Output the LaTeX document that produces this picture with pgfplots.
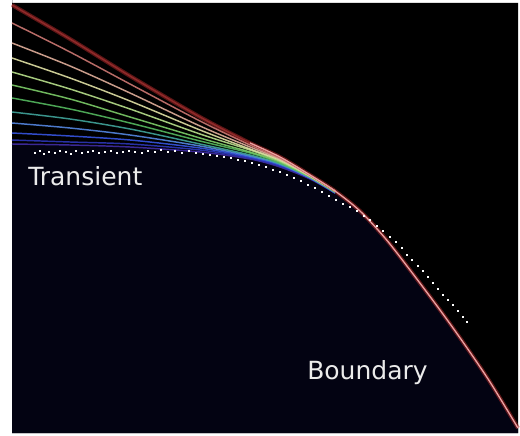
\documentclass[border=0pt]{standalone}
\usepackage{pgfplots}
\pgfplotsset{compat=1.18}
\usepackage{fontspec}
\setmainfont{DejaVu Sans}

% transient curve colours, top (dark red) to bottom (indigo)
\definecolor{c1}{RGB}{150,45,45}
\definecolor{c2}{RGB}{205,120,115}
\definecolor{c3}{RGB}{225,175,155}
\definecolor{c4}{RGB}{225,225,165}
\definecolor{c5}{RGB}{185,225,140}
\definecolor{c6}{RGB}{125,205,105}
\definecolor{c7}{RGB}{85,185,95}
\definecolor{c8}{RGB}{65,165,155}
\definecolor{c9}{RGB}{85,135,225}
\definecolor{c10}{RGB}{55,85,225}
\definecolor{c11}{RGB}{45,55,185}
\definecolor{c12}{RGB}{65,45,165}
\definecolor{navy}{RGB}{3,3,18}
\definecolor{bcore}{RGB}{235,160,160}
\definecolor{bglow}{RGB}{170,40,40}

\pgfplotsset{
  trans/.style={no marks, smooth, line width=1.1pt, opacity=0.9},
}

\begin{document}
\begin{tikzpicture}
\begin{axis}[
  scale only axis,
  width=390pt, height=326.25pt,
  xmin=0, xmax=520, ymin=0, ymax=435,
  y dir=reverse,
  hide axis,
  clip=true,
]
% page and dark panel
\addplot[fill=white, draw=none] coordinates {(0,0) (520,0) (520,435) (0,435)} \closedcycle;
\addplot[fill=black, draw=none] coordinates {(12,3) (518,3) (518,433) (12,433)} \closedcycle;
% region under the lowest transient and the boundary
\addplot[fill=navy, draw=none] coordinates {
  (12,144) (70,145) (130,147) (200,152) (250,159) (280,167) (310,179) (335,193)
  (360,211) (385,238) (410,270) (440,310) (465,345) (490,382) (518,428)
  (518,433) (12,433)} \closedcycle;

% boundary glow
\addplot[no marks, smooth, draw=bglow, line width=3pt, opacity=0.55] coordinates {
  (12,5) (70,39) (130,76) (200,117) (250,143) (280,157) (310,175) (335,191)
  (360,211) (385,238) (410,270) (440,310) (465,345) (490,382) (518,428)};

% transients
\addplot[trans, draw=c12] coordinates {(12,144) (70,145) (130,147) (200,152) (250,159) (280,167) (310,179) (335,193)};
\addplot[trans, draw=c11] coordinates {(12,140) (70,142) (130,144) (200,150) (250,158) (280,166) (310,178) (335,193)};
\addplot[trans, draw=c10] coordinates {(12,133) (70,136) (130,140) (200,148) (250,157) (280,165) (310,178) (335,193)};
\addplot[trans, draw=c9]  coordinates {(12,123) (70,128) (130,135) (200,146) (250,156) (280,164) (310,178) (335,192)};
\addplot[trans, draw=c8]  coordinates {(12,112) (70,119) (130,129) (200,144) (250,155) (280,164) (310,177) (335,192)};
\addplot[trans, draw=c7]  coordinates {(12,98) (70,109) (130,123) (200,141) (250,153) (280,163) (310,177) (335,192)};
\addplot[trans, draw=c6]  coordinates {(12,85) (70,99) (130,117) (200,138) (250,152) (280,162) (310,177) (335,192)};
\addplot[trans, draw=c5]  coordinates {(12,72) (70,89) (130,109) (200,134) (250,150) (280,161) (310,176) (335,191)};
\addplot[trans, draw=c4]  coordinates {(12,58) (70,78) (130,101) (200,130) (250,149) (280,160) (310,176) (335,191)};
\addplot[trans, draw=c3]  coordinates {(12,43) (70,66) (130,93) (200,126) (250,147) (280,159) (310,176) (335,191)};
\addplot[trans, draw=c2]  coordinates {(12,23) (70,52) (130,84) (200,121) (250,145) (280,158) (310,175) (335,191)};
\addplot[trans, draw=c1]  coordinates {(12,5) (70,39) (130,76) (200,117) (250,143) (280,157) (310,175) (335,191)};

% boundary core
\addplot[no marks, smooth, draw=bcore, line width=1pt] coordinates {
  (250,143) (280,157) (310,175) (335,191) (360,211) (385,238) (410,270)
  (440,310) (465,345) (490,382) (518,428)};

% sampled trajectory
\addplot[only marks, mark=square*, mark size=0.55pt, draw=white, fill=white, opacity=0.9] coordinates {
  (35,153) (40,151) (44,154) (49,152) (55,153) (60,151) (66,152) (71,154)
  (76,151) (82,153) (88,152) (93,151) (99,153) (105,152) (111,151) (117,153)
  (123,152) (129,151) (135,152) (142,153) (148,151) (155,152) (161,150) (168,152)
  (175,151) (182,153) (189,151) (196,153) (203,154) (210,155) (217,156) (224,157)
  (231,158) (238,160) (245,161) (252,163) (259,165) (266,167) (273,170) (280,172)
  (287,175) (294,178) (301,181) (308,185) (315,188) (322,192) (329,196) (336,200)
  (343,204) (350,207) (357,211) (364,216) (370,220) (377,226) (383,231) (390,237)
  (396,242) (402,248) (407,255) (412,260) (418,266) (423,271) (428,277) (433,283)
  (438,289) (443,295) (448,300) (453,305) (458,311) (463,317) (467,322)};

\node[anchor=base west, text=white!92!black, inner sep=0pt,
  font=\fontsize{18.75}{20}\selectfont] at (axis cs:28,185) {Transient};
\node[anchor=base west, text=white!92!black, inner sep=0pt,
  font=\fontsize{18.75}{20}\selectfont] at (axis cs:307,379) {Boundary};
\end{axis}
\end{tikzpicture}
\end{document}
